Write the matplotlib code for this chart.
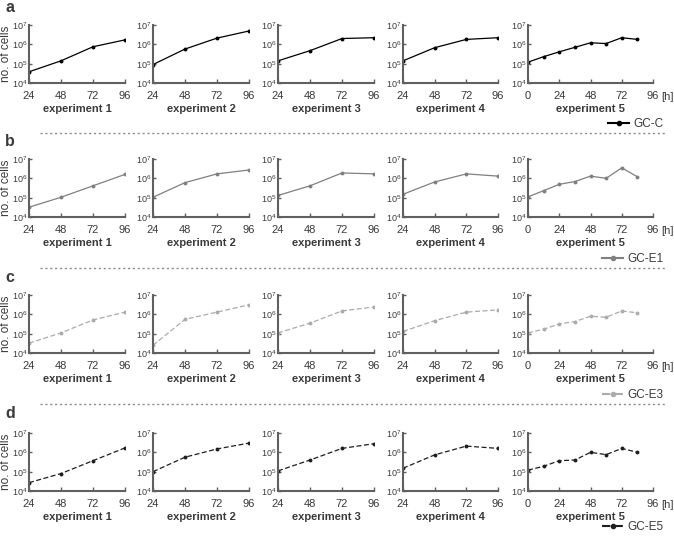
import numpy as np
import matplotlib
matplotlib.use("Agg")
import matplotlib.pyplot as plt
from matplotlib.lines import Line2D

plt.rcParams["font.family"] = ["Liberation Sans", "DejaVu Sans"]
plt.rcParams["mathtext.fontset"] = "custom"
plt.rcParams["mathtext.rm"] = "Liberation Sans"
plt.rcParams["mathtext.it"] = "Liberation Sans:italic"
plt.rcParams["mathtext.bf"] = "Liberation Sans:bold"

TXT = "#3a3a3a"
AXC = "#606060"

# time points (hours)
t_short = [24, 48, 72, 96]
t_exp5 = [0, 12, 24, 36, 48, 60, 72, 84]

# cell numbers per cell line, experiments 1-5
gc_c = [
    [3.8e4, 1.4e5, 7.5e5, 1.7e6],
    [9.0e4, 5.7e5, 2.1e6, 4.9e6],
    [1.4e5, 4.7e5, 2.0e6, 2.2e6],
    [1.4e5, 6.7e5, 1.8e6, 2.2e6],
    [1.2e5, 2.3e5, 4.1e5, 7.0e5, 1.2e6, 1.1e6, 2.2e6, 1.8e6],
]
gc_e1 = [
    [3.2e4, 1.05e5, 4.1e5, 1.6e6],
    [1.05e5, 6.0e5, 1.7e6, 2.7e6],
    [1.3e5, 4.1e5, 1.9e6, 1.7e6],
    [1.5e5, 6.5e5, 1.7e6, 1.3e6],
    [1.1e5, 2.3e5, 4.9e5, 6.8e5, 1.3e6, 1.0e6, 3.5e6, 1.2e6],
]
gc_e3 = [
    [3.2e4, 1.1e5, 5.1e5, 1.3e6],
    [2.5e4, 5.5e5, 1.3e6, 3.1e6],
    [1.1e5, 3.5e5, 1.5e6, 2.4e6],
    [1.3e5, 4.7e5, 1.3e6, 1.7e6],
    [1.1e5, 1.7e5, 3.2e5, 4.2e5, 8.0e5, 7.0e5, 1.5e6, 1.2e6],
]
gc_e5 = [
    [2.7e4, 8.0e4, 3.7e5, 1.7e6],
    [1.0e5, 5.6e5, 1.5e6, 3.0e6],
    [1.1e5, 4.0e5, 1.6e6, 2.8e6],
    [1.5e5, 7.4e5, 2.1e6, 1.6e6],
    [1.2e5, 1.9e5, 3.7e5, 4.0e5, 1.0e6, 7.6e5, 1.6e6, 1.0e6],
]

rows = [
    ("a", "GC-C", gc_c, "#000000", "-"),
    ("b", "GC-E1", gc_e1, "#808080", "-"),
    ("c", "GC-E3", gc_e3, "#ababab", (0, (4, 2))),
    ("d", "GC-E5", gc_e5, "#1e1e1e", (0, (4, 2))),
]

W, H = 674, 539
fig = plt.figure(figsize=(W / 100, H / 100), dpi=100)

lefts = [29, 153, 278, 403, 528]
widths = [96, 96, 96, 95, 125]
tops = [25, 159, 295, 433]
ax_h = 58
legend_y = [124, 259, 395, 527]
sep_y = [133, 268, 404]
label_y = [8, 142, 277, 413]

for r, (letter, name, data, color, ls) in enumerate(rows):
    fig.text(5 / W, 1 - label_y[r] / H, letter, fontsize=11.5, fontweight="bold",
             color=TXT, va="center", ha="left")
    for i in range(5):
        ax = fig.add_axes([lefts[i] / W, 1 - (tops[r] + ax_h) / H, widths[i] / W, ax_h / H])
        t = t_exp5 if i == 4 else t_short
        ax.plot(t, data[i], color=color, linestyle=ls, lw=0.9, marker="o", ms=1.8)
        ax.set_yscale("log")
        ax.set_ylim(1e4, 1e7)
        ax.set_yticks([1e4, 1e5, 1e6, 1e7])
        ax.set_yticklabels([r"$10^4$", r"$10^5$", r"$10^6$", r"$10^7$"])
        ax.minorticks_off()
        if i == 4:
            ax.set_xlim(0, 96)
            ax.set_xticks([0, 24, 48, 72, 96])
            ax.annotate("[h]", xy=(96, 1e4), xytext=(6, -10), textcoords="offset points",
                        ha="left", va="center", fontsize=8, color=TXT)
        else:
            ax.set_xlim(24, 96)
            ax.set_xticks(t_short)
        for s in ["top", "right"]:
            ax.spines[s].set_visible(False)
        for s in ["left", "bottom"]:
            ax.spines[s].set_color(AXC)
            ax.spines[s].set_linewidth(1.5)
        ax.tick_params(axis="x", direction="in", length=3, width=1, color=AXC,
                       labelsize=8, labelcolor=TXT, pad=6)
        ax.tick_params(axis="y", direction="in", length=2, width=1, color=AXC,
                       labelsize=6.5, labelcolor=TXT, pad=1)
        ax.set_xlabel(f"experiment {i + 1}", fontsize=8, fontweight="bold",
                      color=TXT, labelpad=2)
        if i == 0:
            ax.set_ylabel("no. of cells", fontsize=8.5, color=TXT, labelpad=0)
        ax.patch.set_alpha(0)

    handle = Line2D([], [], color=color, linestyle=ls, lw=1.5, marker="o", ms=3)
    fig.legend([handle], [name], loc="center right",
               bbox_to_anchor=(669 / W, 1 - legend_y[r] / H), frameon=False,
               fontsize=8.5, handlelength=1.8, handletextpad=0.3, borderpad=0,
               labelcolor=TXT)
    if r < 3:
        fig.add_artist(Line2D([40 / W, 665 / W], [1 - sep_y[r] / H] * 2,
                              color="#8a8a8a", lw=1, linestyle=(0, (1.5, 2))))

fig.savefig("out.png", dpi=100)
